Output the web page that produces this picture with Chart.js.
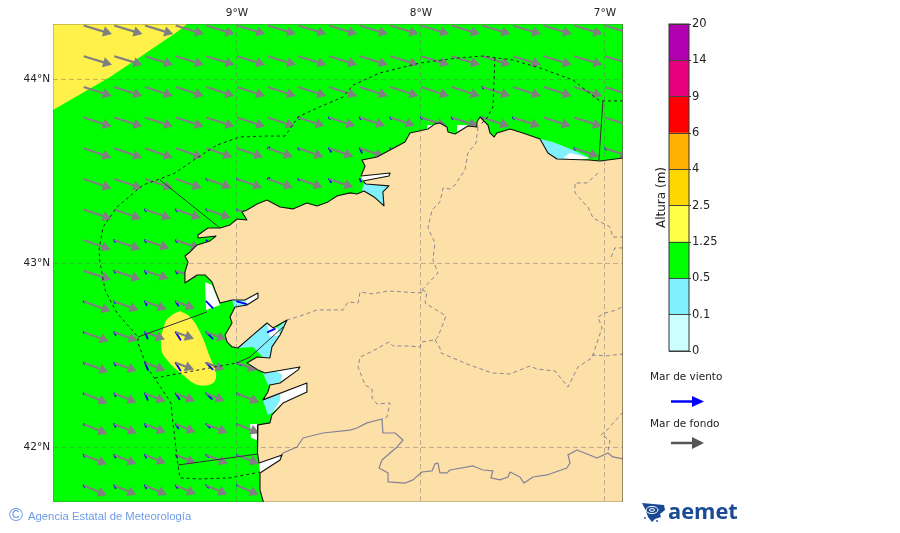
<!DOCTYPE html>
<html>
<head>
<meta charset="utf-8">
<title>Altura de mar</title>
<script src="https://cdn.jsdelivr.net/npm/chart.js@4"></script>
<style>
    body { margin: 0; background: #fff; width: 900px; height: 533px; overflow: hidden; position: relative; font-family: "DejaVu Sans", sans-serif; }
    canvas { position: absolute; }
    .txt { position: absolute; white-space: nowrap; color: #222; }
    svg { position: absolute; }
</style>
</head>
<body>
<canvas id="map" width="900" height="533" style="left:0;top:0"></canvas>
<canvas id="bar" width="100" height="350" style="left:640px;top:10px"></canvas>

<div class="txt" style="left:639px;top:199px;font-size:12px;width:44px;text-align:center;transform:rotate(-90deg)">Altura&nbsp;(m)</div>

<div class="txt" style="left:650px;top:370px;font-size:10.5px">Mar de viento</div>
<svg style="left:665px;top:392px" width="45" height="20"><line x1="6" y1="9.5" x2="28" y2="9.5" stroke="#0000ff" stroke-width="2.5"/><polygon points="27,4 39,9.5 27,15" fill="#0000ff"/></svg>
<div class="txt" style="left:650px;top:417px;font-size:10.5px">Mar de fondo</div>
<svg style="left:665px;top:433px" width="45" height="20"><line x1="6" y1="10" x2="28" y2="10" stroke="#555" stroke-width="2.5"/><polygon points="27,4 39,10 27,16" fill="#555"/></svg>

<div class="txt" style="left:9px;top:505px;font-size:19px;line-height:20px;color:#6c9be8;font-family:'Liberation Sans'">©</div>
<div class="txt" style="left:28px;top:509px;font-size:11.3px;line-height:14px;color:#6c9be8;font-family:'Liberation Sans'">Agencia Estatal de Meteorología</div>

<svg style="left:641px;top:502px" width="26" height="22">
    <path d="M1 1 L23 3 L24 8 L19 12 L20 15 L14 17 L11 20 L7 15 L5 9 Z" fill="#1a4a94"/>
    <ellipse cx="11" cy="8" rx="6" ry="3.6" fill="none" stroke="#fff" stroke-width="1"/>
    <ellipse cx="11" cy="8" rx="2.6" ry="1.4" fill="none" stroke="#fff" stroke-width="1"/>
    <circle cx="4" cy="16" r="0.9" fill="#1a4a94"/>
    <circle cx="16" cy="19" r="0.9" fill="#1a4a94"/>
</svg>
<div class="txt" style="left:668px;top:497px;font-size:21.8px;line-height:28px;font-weight:700;color:#1a4a94;font-family:'Open Sans'">aemet</div>

<script>
// axis limits and ticks (degrees)
const lonMin = -10, lonMax = -6.902, latMin = 41.702, latMax = 44.3;
const lonTicks = [-9, -8, -7];
const latTicks = [42, 43, 44];

// colour bar
const barTicks = ["0", "0.1", "0.5", "1.25", "2.5", "4", "6", "9", "14", "20"];
const barColors = ["#ccffff", "#80f0ff", "#00ff00", "#ffff45", "#ffd700", "#ffb000", "#ff0000", "#e6007e", "#b000b0"];
const barBands = [1, 1, 1, 1, 1, 1, 1, 1, 1];

// arrow grid
const gridLons = [-9.833, -9.667, -9.5, -9.333, -9.167, -9, -8.833, -8.667, -8.5, -8.333, -8.167, -8, -7.833, -7.667, -7.5, -7.333, -7.167, -7];
const gridLats = [44.292, 44.125, 43.958, 43.792, 43.625, 43.458, 43.292, 43.125, 42.958, 42.792, 42.625, 42.458, 42.292, 42.125, 41.958, 41.792];

// swell arrows: length in 0.01 deg, direction in degrees below east
const _ = null;
const swellLen = [
    [16, 16, 16, 16, 16, 16, 16, 16, 16, 16, 16, 16, 16, 16, 16, 16, 16, 16],
    [16, 16, 16, 16, 16, 16, 16, 16, 16, 16, 16, 16, 16, 16, 16, 16, 16, 16],
    [16, 16, 16, 16, 16, 16, 16, 16, 16, 16, 16, 16, 16, 16, 16, 16, 16, 16],
    [16, 16, 16, 16, 16, 16, 15.5, 15, 15, 14.5, 14, 14.5, 15, 15.5, 15.5, 15.5, 15.8, 15.8],
    [16, 16, 16, 15.5, 15, 15, 14.5, 14.5, 14, 14, 13, _, _, _, _, _, 14, 14],
    [16, 16, 16, 15, 14.5, 14.5, 14.5, 14, 14, _, _, _, _, _, _, _, _, _],
    [16, 15.5, 15, 14.5, 14, 14, _, _, _, _, _, _, _, _, _, _, _, _],
    [15.5, 15, 14, 14, _, _, _, _, _, _, _, _, _, _, _, _, _, _],
    [15.5, 15, 13.5, 12, _, _, _, _, _, _, _, _, _, _, _, _, _, _],
    [15.5, 14, 12.5, 11, _, _, _, _, _, _, _, _, _, _, _, _, _, _],
    [14.5, 13.5, 11.5, 10.5, 11.5, _, _, _, _, _, _, _, _, _, _, _, _, _],
    [14.2, 13, 11.8, 10.5, 10.6, 11.5, _, _, _, _, _, _, _, _, _, _, _, _],
    [14, 13, 12, 11.4, 10.8, 13, _, _, _, _, _, _, _, _, _, _, _, _],
    [13.8, 13.2, 12.2, 11.6, 12.4, 13, _, _, _, _, _, _, _, _, _, _, _, _],
    [13.6, 13, 12.2, 11.8, 12.6, 12.8, _, _, _, _, _, _, _, _, _, _, _, _],
    [13.6, 13, 13, 12, 12.4, 12.8, _, _, _, _, _, _, _, _, _, _, _, _],
];
const swellDir = [17, 17, 18, 18, 19, 19, 19, 19, 18, 20, 20, 20, 22, 22, 22, 23];

// wind sea arrows (the short blue ones)
const windLen = [
    [_, _, _, _, _, _, _, _, _, _, _, _, _, _, _, _, _, _],
    [_, _, _, _, _, _, _, _, _, _, _, _, _, _, _, _, _, _],
    [_, _, _, _, _, _, _, _, _, _, _, _, _, 1, _, _, _, _],
    [_, _, _, _, _, _, _, 1, 1, 1, 1, 1, 1, 1, 1, _, _, _],
    [_, _, _, _, _, _, 1, 1, 2.2, 2.7, 1, _, _, _, _, _, 1, 1],
    [_, _, _, _, 1, 1, 1, 1, 2.2, 1.6, _, _, _, _, _, _, _, _],
    [_, _, 1, 1, 1, 1, _, _, _, _, _, _, _, _, _, _, _, _],
    [_, 1, 1.2, 1.2, 1.6, _, _, _, _, _, _, _, _, _, _, _, _, _],
    [_, 1, 1.6, 1.6, _, _, _, _, _, _, _, _, _, _, _, _, _, _],
    [0.6, 1, 2.2, 2.7, 4.9, 5.4, _, _, _, _, _, _, _, _, _, _, _, _],
    [0.6, 1.6, 3.8, 4.9, 4.9, _, 4.3, _, _, _, _, _, _, _, _, _, _, _],
    [0.6, 1.6, 4.3, 4.9, 4.9, 2.7, _, _, _, _, _, _, _, _, _, _, _, _],
    [0.6, 1.6, 3.8, 3.8, 4.3, 1.6, _, _, _, _, _, _, _, _, _, _, _, _],
    [0.6, 1.6, 1.6, 2.7, 2.7, 1, _, _, _, _, _, _, _, _, _, _, _, _],
    [1, 1.6, 1.6, 1.6, 1.6, 1, _, _, _, _, _, _, _, _, _, _, _, _],
    [1, 1.6, 1.6, 1.6, 1.6, 1, _, _, _, _, _, _, _, _, _, _, _, _],
];
const windDirByCol = [60, 65, 68, 58, 45, 30, -25, 55, 60, 65, 60, 60, 60, 60, 60, 60, 60, 60];

// sea state areas
const seaArea = [[-10, 44.3], [-6.902, 44.3], [-6.902, 41.702], [-10, 41.702]];
const yellowCorner = [[-10, 44.3], [-9.272, 44.3], [-9.326, 44.257], [-9.511, 44.132], [-9.69, 44.012], [-10, 43.833]];
const yellowBlob = [[-9.31, 42.74], [-9.255, 42.708], [-9.201, 42.626], [-9.147, 42.49], [-9.114, 42.403], [-9.13, 42.349], [-9.212, 42.338], [-9.293, 42.392], [-9.38, 42.474], [-9.413, 42.545], [-9.391, 42.675], [-9.353, 42.718], [-9.31, 42.74]];

const cyanPatches = [
    [[-8.31, 43.436], [-8.174, 43.42], [-8.201, 43.311], [-8.266, 43.371], [-8.321, 43.398]],
    [[-7.353, 43.675], [-7.283, 43.659], [-7.174, 43.615], [-7.082, 43.572], [-7.163, 43.561], [-7.261, 43.561], [-7.31, 43.599]],
    [[-9.027, 42.8], [-8.957, 42.8], [-8.946, 42.773], [-9.011, 42.746]],
    [[-8.995, 42.539], [-8.913, 42.61], [-8.837, 42.675], [-8.783, 42.648], [-8.728, 42.691], [-8.804, 42.545], [-8.81, 42.474], [-8.859, 42.49], [-8.913, 42.545]],
    [[-8.859, 42.403], [-8.793, 42.414], [-8.755, 42.392], [-8.766, 42.349], [-8.832, 42.338]],
    [[-8.859, 42.257], [-8.766, 42.295], [-8.766, 42.257], [-8.81, 42.186], [-8.832, 42.175]],
];
const riaWhite = [
    [[-7.19, 43.599], [-7.082, 43.572], [-7.163, 43.555], [-7.228, 43.572]],
    [[-8.837, 42.675], [-8.783, 42.648], [-8.766, 42.61], [-8.821, 42.6]],
    [[-8.793, 42.414], [-8.658, 42.436], [-8.668, 42.42], [-8.766, 42.349], [-8.755, 42.392]],
    [[-8.766, 42.295], [-8.62, 42.349], [-8.62, 42.3], [-8.75, 42.24], [-8.81, 42.186], [-8.766, 42.257]],
    [[-8.957, 42.8], [-8.886, 42.838], [-8.886, 42.811], [-8.946, 42.773]],
];
const shoreWhite = [
    [[-9.174, 42.898], [-9.136, 42.882], [-9.092, 42.773], [-9.168, 42.746]],
    [[-8.929, 42.126], [-8.886, 42.126], [-8.891, 42.039], [-8.924, 42.05]],
    [[-7.967, 43.751], [-7.924, 43.751], [-7.951, 43.724], [-7.967, 43.724]],
    [[-7.804, 43.751], [-7.745, 43.751], [-7.761, 43.735], [-7.804, 43.713]],
    [[-8.88, 41.914], [-8.755, 41.958], [-8.766, 41.93], [-8.875, 41.86]],
    [[-8.326, 43.474], [-8.168, 43.49], [-8.174, 43.474], [-8.315, 43.447]],
];

// coast, east edge round to the south edge
const coast = [
    [-6.902, 43.572], [-7.027, 43.555], [-7.087, 43.561], [-7.261, 43.566], [-7.31, 43.599], [-7.353, 43.675], [-7.446, 43.708], [-7.516, 43.729],
    [-7.587, 43.708], [-7.603, 43.686], [-7.625, 43.708], [-7.636, 43.751], [-7.663, 43.778], [-7.679, 43.795], [-7.696, 43.767], [-7.696, 43.74],
    [-7.745, 43.746], [-7.815, 43.702], [-7.853, 43.713], [-7.859, 43.74], [-7.897, 43.762], [-7.924, 43.757], [-7.962, 43.729], [-8.06, 43.708],
    [-8.087, 43.659], [-8.239, 43.577], [-8.321, 43.561], [-8.304, 43.528], [-8.326, 43.474], [-8.168, 43.49], [-8.174, 43.474], [-8.315, 43.447],
    [-8.299, 43.43], [-8.174, 43.42], [-8.207, 43.387], [-8.201, 43.311], [-8.255, 43.36], [-8.31, 43.392], [-8.348, 43.376], [-8.386, 43.382],
    [-8.457, 43.365], [-8.505, 43.333], [-8.565, 43.311], [-8.62, 43.327], [-8.696, 43.295], [-8.766, 43.305], [-8.837, 43.343], [-8.891, 43.322],
    [-8.946, 43.289], [-8.973, 43.278], [-8.946, 43.235], [-9, 43.24], [-9.038, 43.208], [-9.092, 43.191], [-9.158, 43.191], [-9.212, 43.153],
    [-9.212, 43.137], [-9.114, 43.148], [-9.147, 43.121], [-9.217, 43.099], [-9.255, 43.061], [-9.283, 43.039], [-9.266, 43.007], [-9.283, 42.952],
    [-9.283, 42.892], [-9.217, 42.936], [-9.174, 42.936], [-9.136, 42.898], [-9.12, 42.854], [-9.092, 42.784], [-9.027, 42.8], [-8.957, 42.8],
    [-8.886, 42.838], [-8.886, 42.811], [-8.946, 42.773], [-9.011, 42.762], [-9.038, 42.708], [-9.027, 42.675], [-9.065, 42.61], [-9.054, 42.572],
    [-9.027, 42.545], [-8.995, 42.539], [-8.913, 42.61], [-8.837, 42.675], [-8.804, 42.648], [-8.728, 42.691], [-8.766, 42.61], [-8.81, 42.545],
    [-8.821, 42.485], [-8.891, 42.49], [-8.946, 42.458], [-8.886, 42.42], [-8.848, 42.403], [-8.658, 42.436], [-8.668, 42.42], [-8.766, 42.349],
    [-8.821, 42.338], [-8.832, 42.3], [-8.859, 42.257], [-8.62, 42.349], [-8.62, 42.3], [-8.75, 42.24], [-8.81, 42.175], [-8.821, 42.132],
    [-8.886, 42.121], [-8.891, 42.039], [-8.886, 41.968], [-8.88, 41.914], [-8.755, 41.958], [-8.766, 41.93], [-8.875, 41.86], [-8.875, 41.767],
    [-8.853, 41.69],
];
const landCorners = [[-6.9, 41.69], [-6.9, 43.572]];

// maritime zone limits
const zoneOuter = [
    [-6.902, 43.882], [-7.027, 43.882], [-7.092, 43.93], [-7.174, 43.996], [-7.353, 44.061], [-7.5, 44.104], [-7.663, 44.126], [-7.804, 44.115],
    [-8.005, 44.088], [-8.223, 44.034], [-8.37, 43.968], [-8.424, 43.903], [-8.565, 43.843], [-8.668, 43.795], [-8.739, 43.691], [-8.837, 43.691],
    [-8.984, 43.686], [-9.109, 43.642], [-9.217, 43.572], [-9.337, 43.49], [-9.418, 43.458], [-9.511, 43.425], [-9.652, 43.305], [-9.728, 43.197],
    [-9.75, 43.072], [-9.745, 43.007], [-9.717, 42.854], [-9.652, 42.729], [-9.538, 42.599], [-9.538, 42.566], [-9.489, 42.436], [-9.38, 42.273],
    [-9.359, 42.24], [-9.348, 42.132], [-9.321, 41.903], [-9.31, 41.833], [-9.201, 41.827], [-9.038, 41.833], [-8.875, 41.865],
];
const zoneDashed = [
    [[-9.446, 42.376], [-9, 42.458]],
    [[-7.598, 44.115], [-7.609, 43.849], [-7.641, 43.789], [-7.679, 43.751]],
];
const zoneSolid = [
    [[-9.418, 43.452], [-9.092, 43.191]],
    [[-9.538, 42.599], [-9.163, 42.735]],
    [[-9, 42.458], [-8.929, 42.49], [-8.75, 42.653]],
    [[-9.321, 41.903], [-8.886, 41.963]],
    [[-7.011, 43.882], [-7.033, 43.561]],
];

// provinces
const provinceLines = [
    [[-7.69, 43.74], [-7.701, 43.653], [-7.745, 43.599], [-7.761, 43.507], [-7.815, 43.425], [-7.842, 43.403], [-7.88, 43.409], [-7.897, 43.333], [-7.94, 43.289], [-7.962, 43.191], [-7.924, 43.11], [-7.935, 43.017], [-7.908, 42.947], [-7.995, 42.854]],
    [[-7.995, 42.838], [-8.087, 42.843], [-8.179, 42.849], [-8.261, 42.833], [-8.331, 42.843], [-8.342, 42.784], [-8.397, 42.789], [-8.424, 42.746], [-8.478, 42.746], [-8.565, 42.746], [-8.641, 42.718], [-8.728, 42.691]],
    [[-7.995, 42.854], [-7.967, 42.843], [-7.978, 42.784], [-7.864, 42.713], [-7.908, 42.599], [-7.924, 42.583], [-7.995, 42.572], [-8.005, 42.545], [-8.071, 42.55], [-8.152, 42.55], [-8.174, 42.572], [-8.261, 42.523], [-8.331, 42.49], [-8.342, 42.436], [-8.304, 42.338], [-8.266, 42.316], [-8.266, 42.267], [-8.239, 42.235], [-8.168, 42.24], [-8.185, 42.164], [-8.212, 42.153]],
    [[-7.924, 42.583], [-7.897, 42.539], [-7.891, 42.512], [-7.75, 42.452], [-7.614, 42.403], [-7.516, 42.398], [-7.408, 42.441], [-7.37, 42.425], [-7.272, 42.414], [-7.201, 42.327], [-7.147, 42.436], [-7.071, 42.485], [-7.016, 42.648], [-7.038, 42.708], [-7, 42.729], [-6.935, 42.746], [-6.902, 42.767]],
    [[-7.071, 42.501], [-6.989, 42.496], [-6.902, 42.507]],
    [[-6.902, 42.191], [-6.989, 42.093], [-7.022, 42.066], [-6.973, 42.039], [-6.984, 41.974]],
    [[-7.038, 43.49], [-7.098, 43.436], [-7.163, 43.436], [-7.163, 43.382], [-7.12, 43.333], [-7.092, 43.305], [-7.065, 43.246], [-6.973, 43.197], [-6.957, 43.142], [-6.902, 43.142]],
    [[-6.902, 43.083], [-6.946, 43.083], [-6.973, 43.017]],
];

// border with Portugal
const portugalBorder = [
    [-8.766, 41.947], [-8.75, 41.968], [-8.674, 42.001], [-8.641, 42.05], [-8.533, 42.077], [-8.386, 42.093], [-8.348, 42.104], [-8.293, 42.132],
    [-8.212, 42.153], [-8.207, 42.077], [-8.141, 42.077], [-8.098, 42.039], [-8.13, 42.001], [-8.212, 41.93], [-8.228, 41.887], [-8.179, 41.86],
    [-8.179, 41.811], [-8.087, 41.805], [-8.043, 41.822], [-7.995, 41.865], [-7.94, 41.871], [-7.924, 41.909], [-7.908, 41.914], [-7.897, 41.86],
    [-7.859, 41.86], [-7.842, 41.876], [-7.717, 41.898], [-7.663, 41.876], [-7.609, 41.871], [-7.62, 41.833], [-7.571, 41.822], [-7.527, 41.838],
    [-7.516, 41.865], [-7.462, 41.838], [-7.44, 41.805], [-7.391, 41.838], [-7.315, 41.849], [-7.207, 41.887], [-7.19, 41.914], [-7.201, 41.958],
    [-7.152, 41.985], [-7.043, 41.941], [-6.984, 41.968], [-6.957, 41.947], [-6.902, 41.936],
];

const frame = [[lonMin, latMax], [lonMax, latMax], [lonMax, latMin], [lonMin, latMin], [lonMin, latMax]];

const toXY = (pts) => pts.map(([x, y]) => ({ x, y }));
const toRad = (d) => (d * Math.PI) / 180;
const HEAD_RADIUS = 6;
const HEAD_CUT = 3.2;

const area = (pts, color, tension = 0) => ({
    data: toXY(pts),
    showLine: true,
    fill: "shape",
    backgroundColor: color,
    borderWidth: 0,
    pointRadius: 0,
    tension,
});

const line = (pts, color, width, dash = []) => ({
    data: toXY(pts),
    showLine: true,
    fill: false,
    borderColor: color,
    borderWidth: width,
    borderDash: dash,
    borderJoinStyle: "round",
    pointRadius: 0,
});

// swell arrows go in one dataset, null points break the line between arrows
const swellPoints = [];
const swellRadius = [];
const swellRotation = [];
gridLats.forEach((lat, r) => {
    gridLons.forEach((lon, c) => {
        const len = swellLen[r][c];
        if (len === null) return;
        const L = (len - HEAD_CUT) / 100;
        const a = toRad(swellDir[r]);
        swellPoints.push({ x: lon, y: lat }, { x: lon + L * Math.cos(a), y: lat - L * Math.sin(a) }, { x: null, y: null });
        swellRadius.push(0, HEAD_RADIUS, 0);
        swellRotation.push(0, 90 + swellDir[r], 0);
    });
});

const windPoints = [];
gridLats.forEach((lat, r) => {
    gridLons.forEach((lon, c) => {
        const len = windLen[r][c];
        if (len === null) return;
        const dir = r === 9 && c === 5 ? 15 : windDirByCol[c];
        const a = toRad(dir);
        windPoints.push({ x: lon, y: lat }, { x: lon + (len / 100) * Math.cos(a), y: lat - (len / 100) * Math.sin(a) }, { x: null, y: null });
    });
});

// paint order, first one is at the bottom
const layers = [
    area(seaArea, "#00ff00"),
    area(yellowCorner, "#fff04a"),
    area(yellowBlob, "#fff04a", 0.4),
    ...shoreWhite.map((p) => area(p, "#ffffff")),
    ...cyanPatches.map((p) => area(p, "#80f0ff")),
    ...riaWhite.map((p) => area(p, "#ffffff")),
    { data: windPoints, showLine: true, spanGaps: false, borderColor: "#0000ff", borderWidth: 1.8, borderCapStyle: "round", pointRadius: 0 },
    {
        data: swellPoints,
        showLine: true,
        spanGaps: false,
        borderColor: "#808080",
        borderWidth: 2.2,
        pointStyle: "triangle",
        pointRadius: swellRadius,
        pointRotation: swellRotation,
        pointBackgroundColor: "#808080",
        pointBorderWidth: 0,
    },
    area(coast.concat(landCorners), "#fddfa8"),
    ...provinceLines.map((p) => line(p, "rgba(120,120,140,0.85)", 1, [4, 3])),
    line(portugalBorder, "rgba(120,120,150,0.9)", 1.2),
    line(coast, "#111", 1.1),
    line(zoneOuter, "#222", 1, [3, 3]),
    ...zoneDashed.map((p) => line(p, "#222", 1, [3, 3])),
    ...zoneSolid.map((p) => line(p, "#333", 1)),
    line(frame, "rgba(90,90,70,0.6)", 1),
];
layers.forEach((d, i) => { d.order = layers.length - i; });

const gridDash = { dash: [5, 3], display: false };
const gridLine = { color: "rgba(110,110,110,0.45)", z: 1, drawTicks: false };
const tickFont = { family: "DejaVu Sans", size: 10.5 };

new Chart(document.getElementById("map"), {
    type: "scatter",
    data: { datasets: layers },
    options: {
        responsive: false,
        animation: false,
        events: [],
        layout: { padding: { top: 0, left: 0, right: 277, bottom: 31 } },
        plugins: { legend: { display: false }, tooltip: { enabled: false } },
        scales: {
            x: {
                type: "linear",
                position: "top",
                min: lonMin,
                max: lonMax,
                afterBuildTicks: (s) => { s.ticks = lonTicks.map((value) => ({ value })); },
                afterFit: (s) => { s.height = 24; },
                ticks: { color: "#222", font: tickFont, padding: 4, maxRotation: 0, callback: (v) => `${-v}°W` },
                grid: gridLine,
                border: gridDash,
            },
            y: {
                type: "linear",
                min: latMin,
                max: latMax,
                afterBuildTicks: (s) => { s.ticks = latTicks.map((value) => ({ value })); },
                afterFit: (s) => { s.width = 53; },
                ticks: { color: "#222", font: tickFont, padding: 3, callback: (v) => `${v}°N` },
                grid: gridLine,
                border: gridDash,
            },
        },
    },
});

new Chart(document.getElementById("bar"), {
    type: "bar",
    data: {
        labels: [""],
        datasets: barBands.map((band, i) => ({ data: [band], backgroundColor: barColors[i], barPercentage: 1, categoryPercentage: 1 })),
    },
    options: {
        responsive: false,
        animation: false,
        events: [],
        layout: { padding: { top: 14, left: 29, right: 0, bottom: 9 } },
        plugins: { legend: { display: false }, tooltip: { enabled: false } },
        scales: {
            x: { stacked: true, display: false },
            y: {
                stacked: true,
                position: "right",
                min: 0,
                max: barTicks.length - 1,
                afterFit: (s) => { s.width = 51; },
                afterBuildTicks: (s) => { s.ticks = barTicks.map((_t, value) => ({ value })); },
                ticks: { color: "#222", font: { family: "DejaVu Sans", size: 11.5 }, padding: 1, callback: (v) => barTicks[v] },
                grid: { color: "#444", lineWidth: 1, z: 1, tickLength: 2 },
                border: { display: false },
            },
        },
    },
    plugins: [{
        id: "barFrame",
        afterDraw: (chart) => {
            const { ctx, chartArea: a } = chart;
            ctx.save();
            ctx.strokeStyle = "#333";
            ctx.lineWidth = 1;
            ctx.strokeRect(a.left, a.top, a.right - a.left, a.bottom - a.top);
            ctx.restore();
        },
    }],
});
</script>
</body>
</html>
